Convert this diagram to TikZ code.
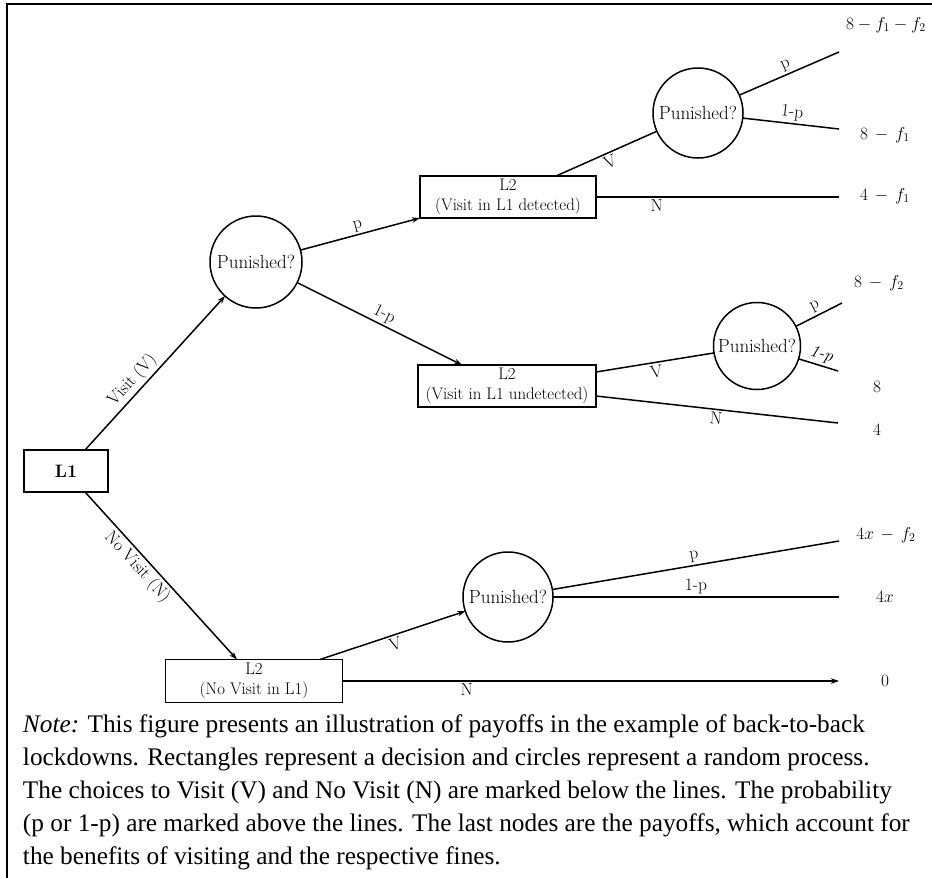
\documentclass[tikz,border=0pt]{standalone}
\usepackage{fontspec}
\usetikzlibrary{arrows.meta}
\newfontfamily\notefont{Liberation Serif}
\begin{document}
\begin{tikzpicture}[x=1pt,y=-1pt,
  every node/.style={inner sep=0pt,outer sep=0pt},
  dec/.style={draw,line width=1.5pt,rectangle,minimum height=42pt,align=center,font=\fontsize{16.8}{19.5}\selectfont},
  chance/.style={draw,line width=1.5pt,circle,inner sep=0pt,font=\fontsize{19}{22}\selectfont},
  pay/.style={font=\fontsize{17.5}{20}\selectfont},
  conn/.style={line width=1.5pt},
  arr/.style={conn,-{Stealth[length=8pt,width=5.5pt]}},
  lab/.style={font=\fontsize{17.5}{20}\selectfont,sloped,inner sep=3pt}
]
\useasboundingbox (0,0) rectangle (932,878);
% frame
\draw[line width=2.5pt] (7,878) -- (7,4) -- (932,4);

% nodes
\node[dec,minimum width=84pt,font=\fontsize{18}{20}\selectfont\bfseries] (L1) at (66,471) {L1};
\node[chance,minimum size=92pt] (P1) at (256,262) {Punished?};
\node[dec,minimum width=176pt] (L2d) at (508,197) {L2\\(Visit in L1 detected)};
\node[chance,minimum size=90pt] (P2) at (698,113) {Punished?};
\node[dec,minimum width=178pt] (L2u) at (507,386) {L2\\(Visit in L1 undetected)};
\node[chance,minimum size=87pt] (P3) at (757,346) {Punished?};
\node[dec,minimum width=177pt,minimum height=43pt] (L2n) at (254,681) {L2\\(No Visit in L1)};
\node[chance,minimum size=90pt] (P4) at (508,597) {Punished?};

% payoffs
\node[pay] (o1) at (886,25) {$8-f_1-f_2$};
\node[pay] (o2) at (885,135) {$8\,-\,f_1$};
\node[pay] (o3) at (885,196) {$4\,-\,f_1$};
\node[pay] (o4) at (879,283) {$8\,-\,f_2$};
\node[pay] (o5) at (877,387) {$8$};
\node[pay] (o6) at (877,430) {$4$};
\node[pay] (o7) at (886,535) {$4x\,-\,f_2$};
\node[pay] (o8) at (885,597) {$4x$};
\node[pay] (o9) at (885,681) {$0$};

% free ends
\coordinate (e1) at (839,52);
\coordinate (e2) at (839,129);
\coordinate (e3) at (839,197);
\coordinate (e4) at (842,303);
\coordinate (e5) at (838,371);
\coordinate (e6) at (838,423);
\coordinate (e7) at (839,541);
\coordinate (e8) at (839,597);
\coordinate (e9) at (839,681);

% connectors
\draw[arr] ([xshift=19pt]L1.north) -- (P1) node[lab,pos=0.4,above]{Visit (V)};
\draw[arr] ([xshift=19pt]L1.south) -- ([xshift=-17pt]L2n.north) node[lab,pos=0.4,below]{No Visit (N)};

\draw[arr] (P1) -- (L2d.south west) node[lab,midway,above]{p};
\draw[arr] (P1) -- ([xshift=-45pt]L2u.north) node[lab,midway,above]{1-p};

\draw[conn] ([xshift=48pt]L2d.north) -- (P2) node[lab,midway,below]{V};
\draw[conn] (L2d.east) -- (e3) node[lab,pos=0.25,below]{N};
\draw[conn] (P2) -- (e1) node[lab,midway,above]{p};
\draw[conn] (P2) -- (e2) node[lab,midway,above]{1-p};

\draw[conn] ([yshift=14pt]L2u.east) -- (P3) node[lab,midway,below]{V};
\draw[conn] ([yshift=-10pt]L2u.east) -- (e6) node[lab,midway,below]{N};
\draw[conn] (P3) -- (e4) node[lab,midway,above]{p};
\draw[conn] (P3) -- (e5) node[lab,midway,above]{\itshape 1-p};

\draw[arr] ([xshift=66pt]L2n.north) -- (P4) node[lab,midway,below]{V};
\draw[arr] (L2n.east) -- (e9) node[lab,pos=0.25,below]{N};
\draw[conn] (P4) -- (e7) node[lab,midway,above]{p};
\draw[conn] (P4) -- (e8) node[lab,midway,above]{1-p};

% note
\node[anchor=north west,align=left,font=\notefont\fontsize{25.3}{33}\selectfont] (note) at (23,715)
{\textit{Note:} This figure presents an illustration of payoffs in the example of back-to-back\\
lockdowns. Rectangles represent a decision and circles represent a random process.\\
The choices to Visit (V) and No Visit (N) are marked below the lines. The probability\\
(p or 1-p) are marked above the lines. The last nodes are the payoffs, which account for\\
the benefits of visiting and the respective fines.};
\end{tikzpicture}
\end{document}
